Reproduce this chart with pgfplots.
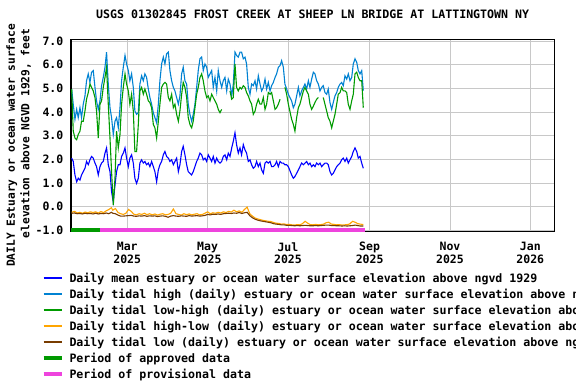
\documentclass[border=0pt]{standalone}
\usepackage{fontspec}
\setmainfont{DejaVu Sans Mono}
\usepackage{pgfplots}
\usepackage{pgfplotstable}
\pgfplotsset{compat=1.18}
\definecolor{cmean}{RGB}{0,0,255}
\definecolor{chigh}{RGB}{0,130,210}
\definecolor{clohi}{RGB}{0,155,0}
\definecolor{chilo}{RGB}{255,165,0}
\definecolor{clow}{RGB}{120,60,0}
\definecolor{capp}{RGB}{0,153,0}
\definecolor{cprov}{RGB}{238,68,221}
\definecolor{cgrid}{RGB}{200,200,200}

% day = days since 2025-01-01
\pgfplotstableread{
d hi lh mn
16.8 4.97 4.97 2.05
18.0 4.33 3.19 1.91
19.3 3.69 2.90 1.34
20.6 4.11 2.83 1.05
21.8 3.76 3.05 1.20
23.1 4.18 3.19 1.12
24.3 3.76 3.61 1.34
25.6 4.33 3.61 1.48
26.9 4.68 4.04 1.62
28.1 5.32 4.54 1.91
29.4 5.61 4.82 1.77
30.7 5.25 5.18 1.98
31.9 5.68 5.04 2.12
33.2 5.75 4.89 2.05
34.5 5.04 4.61 1.84
35.7 4.47 4.04 1.69
37.0 4.11 2.90 1.34
38.3 4.47 4.33 1.69
39.5 5.11 4.47 1.84
40.8 5.46 5.04 1.91
42.1 5.89 5.46 2.26
43.3 6.53 5.89 2.48
44.6 5.18 4.33 1.77
45.9 4.18 2.90 1.48
47.1 3.76 1.48 0.63
48.4 3.05 0.06 0.20
49.7 3.61 1.20 0.91
50.9 3.76 3.19 1.48
52.2 3.33 2.48 1.77
53.5 4.18 3.05 1.77
54.7 5.32 4.33 2.12
56.0 5.89 5.04 2.26
57.3 6.39 5.61 2.48
58.5 6.03 5.18 2.05
59.8 5.75 4.89 1.69
61.0 5.32 4.33 2.05
62.3 5.61 4.75 2.19
63.6 5.04 4.04 1.84
64.8 4.04 2.33 1.20
66.1 3.90 2.33 0.98
67.4 3.97 3.47 1.20
68.6 5.18 4.89 1.84
69.9 5.53 5.04 1.98
71.2 5.32 4.75 1.84
72.4 5.61 4.97 1.91
73.7 5.46 4.75 1.77
75.0 4.97 4.47 1.84
76.2 4.61 4.40 1.69
77.5 4.33 4.18 1.91
78.8 3.97 3.47 1.69
80.0 3.76 3.33 1.48
81.3 3.54 2.90 1.05
82.6 4.33 3.61 1.55
83.8 5.32 4.33 1.77
85.1 6.03 5.04 1.91
86.4 6.32 5.18 2.19
87.6 6.03 5.25 2.33
88.9 6.46 5.18 2.12
90.2 6.53 4.61 2.05
91.4 5.75 4.47 1.91
92.7 5.32 4.75 1.98
94.0 5.04 4.18 1.77
95.2 4.89 4.33 1.91
96.5 4.61 3.90 2.05
97.8 4.33 3.61 1.48
99.0 4.68 4.04 1.77
100.3 5.61 4.75 2.33
101.5 5.89 5.25 2.55
102.8 5.32 5.04 2.19
104.1 5.18 4.61 1.77
105.3 4.33 3.76 1.48
106.6 3.90 3.47 1.41
107.9 3.61 3.33 1.34
109.1 3.90 3.61 1.48
110.4 4.33 4.18 1.69
111.7 5.04 4.75 1.91
112.9 5.75 5.04 2.05
114.2 6.25 5.46 2.26
115.5 6.32 5.61 2.19
116.7 5.75 5.32 1.98
118.0 6.03 4.89 2.05
119.3 5.89 4.61 1.91
120.5 5.46 4.68 2.19
121.8 5.61 4.47 2.05
123.1 5.75 4.75 1.91
124.3 5.04 4.61 2.12
125.6 5.46 4.47 1.84
126.9 4.89 4.33 2.05
128.1 5.75 4.11 1.91
129.4 5.32 3.97 1.84
130.7 5.04 4.11 1.91
131.9 5.32 nan 2.12
133.2 5.46 nan 2.19
134.5 4.89 nan 1.98
135.7 5.39 nan 2.26
137.0 5.18 4.89 2.12
138.3 4.68 4.54 2.48
139.5 5.18 4.61 2.76
140.8 6.53 6.03 3.12
142.0 6.39 5.04 2.62
143.3 6.32 4.89 2.26
144.6 6.53 5.04 2.48
145.8 6.53 4.97 2.19
147.1 6.25 5.11 2.62
148.4 6.32 5.04 2.40
149.6 6.03 4.82 2.26
150.9 5.04 4.68 1.91
152.2 4.75 4.47 1.98
153.4 5.18 4.33 1.77
154.7 5.11 3.90 1.62
156.0 5.32 4.04 1.69
157.2 4.97 4.33 1.91
158.5 5.53 4.54 1.69
159.8 5.18 4.33 1.84
161.0 4.89 4.33 1.55
162.3 5.04 4.61 1.41
163.6 5.39 4.11 1.84
164.8 4.97 4.33 1.91
166.1 5.25 4.82 1.84
167.4 4.89 4.75 1.91
168.6 5.11 4.82 1.69
169.9 5.25 4.47 1.69
171.2 5.46 4.11 1.77
172.4 5.61 4.18 1.91
173.7 5.89 4.33 1.69
175.0 5.96 4.54 1.91
176.2 6.17 nan 1.84
177.5 5.89 nan 1.84
178.7 5.18 5.04 1.77
180.0 4.97 4.75 1.77
181.3 4.75 4.33 1.69
183.8 4.47 3.69 1.34
185.1 4.18 3.47 1.20
186.3 4.33 3.19 1.27
187.6 4.68 3.76 1.41
188.9 5.04 4.18 1.55
190.1 4.68 4.33 1.69
191.4 4.89 4.61 1.84
192.7 5.04 4.89 1.77
193.9 5.18 5.04 1.84
195.2 4.97 4.89 1.91
196.5 5.32 4.75 1.77
197.7 5.04 4.33 1.84
199.0 5.39 4.11 1.69
200.3 5.68 4.25 1.77
201.5 5.61 4.40 1.69
202.8 5.32 4.54 1.84
204.1 5.18 4.61 1.77
205.3 4.89 nan 1.84
206.6 5.04 nan 1.69
207.8 5.11 4.61 1.77
209.1 4.82 4.33 1.84
210.4 4.75 4.04 1.84
211.6 4.97 3.76 1.77
212.9 4.40 3.61 1.48
214.2 4.11 3.33 1.34
215.4 4.40 3.61 1.41
216.7 4.68 3.90 1.55
218.0 4.82 4.33 1.69
219.2 5.04 4.75 1.77
220.5 5.18 4.82 1.84
221.8 5.25 5.04 1.98
223.0 5.11 4.89 2.05
224.3 5.53 4.89 1.91
225.6 5.39 4.82 2.05
226.8 5.61 4.33 1.84
228.1 5.32 4.11 1.98
229.4 5.46 4.47 2.12
230.6 6.03 4.75 2.33
231.9 6.25 5.61 2.48
233.2 6.10 5.68 2.33
234.4 5.75 5.46 2.05
235.7 5.61 5.32 2.12
237.0 5.75 5.32 1.84
238.2 4.90 4.18 1.62
}\daily

\pgfplotstableread{
d hl lo
16.8 -0.24 -0.28
19 -0.20 -0.27
21 -0.27 -0.30
23 -0.24 -0.29
25 -0.28 -0.31
27 -0.23 -0.28
29 -0.26 -0.30
31 -0.22 -0.29
33 -0.25 -0.31
35 -0.22 -0.28
37 -0.27 -0.31
39 -0.21 -0.29
41 -0.25 -0.30
43 -0.18 -0.27
45 -0.12 -0.30
47 -0.05 -0.24
48 -0.15 -0.28
50 -0.08 -0.30
52 -0.25 -0.36
54 -0.30 -0.40
56 -0.33 -0.40
58 -0.28 -0.39
60 -0.12 -0.38
62 -0.20 -0.37
64 -0.32 -0.40
66 -0.35 -0.41
68 -0.30 -0.39
70 -0.33 -0.40
72 -0.28 -0.38
74 -0.34 -0.41
76 -0.30 -0.39
78 -0.35 -0.40
80 -0.31 -0.39
82 -0.36 -0.42
84 -0.32 -0.40
86 -0.30 -0.39
88 -0.35 -0.41
90 -0.33 -0.45
92 -0.28 -0.40
94 -0.10 -0.38
96 -0.30 -0.40
98 -0.33 -0.41
100 -0.36 -0.39
102 -0.30 -0.40
104 -0.34 -0.41
106 -0.31 -0.38
108 -0.35 -0.40
110 -0.32 -0.39
112 -0.30 -0.38
114 -0.35 -0.40
116 -0.33 -0.39
118 -0.28 -0.37
120 -0.22 -0.33
122 -0.30 -0.35
124 -0.26 -0.32
126 -0.28 -0.33
128 -0.24 -0.31
130 -0.27 -0.33
132 -0.22 -0.30
134 -0.25 -0.29
136 -0.20 -0.28
138 -0.23 -0.29
140 -0.15 -0.27
142 -0.22 -0.28
144 -0.18 -0.25
146 -0.24 -0.29
148 -0.12 -0.26
150 -0.02 -0.24
152 -0.30 -0.38
154 -0.40 -0.47
156 -0.48 -0.53
158 -0.52 -0.57
160 -0.55 -0.60
162 -0.58 -0.62
164 -0.60 -0.64
166 -0.62 -0.66
168 -0.63 -0.68
170 -0.67 -0.72
172 -0.70 -0.74
174 -0.71 -0.75
176 -0.74 -0.77
178 -0.73 -0.77
180 -0.76 -0.79
182 -0.75 -0.79
184 -0.77 -0.80
186 -0.78 -0.81
188 -0.76 -0.80
190 -0.77 -0.81
192 -0.72 -0.80
194 -0.62 -0.79
196 -0.70 -0.80
198 -0.76 -0.81
200 -0.77 -0.81
202 -0.75 -0.80
204 -0.77 -0.81
206 -0.76 -0.80
208 -0.74 -0.79
210 -0.68 -0.78
212 -0.66 -0.78
214 -0.74 -0.80
216 -0.75 -0.80
218 -0.77 -0.81
220 -0.76 -0.81
222 -0.78 -0.82
224 -0.77 -0.81
226 -0.76 -0.82
228 -0.73 -0.81
230 -0.62 -0.80
232 -0.66 -0.78
234 -0.72 -0.80
236 -0.74 -0.82
238.2 -0.76 -0.82
}\lows

\begin{document}
\begin{tikzpicture}[x=1pt,y=1pt]
\path[use as bounding box, clip] (0,0) rectangle (576,384);
\fill[white] (0,0) rectangle (576,384);
\begin{axis}[
  scale only axis, width=483.3pt, height=192pt,
  at={(71pt,152.3pt)}, anchor=south west,
  xmin=16.3, xmax=383.2, ymin=-1.06, ymax=7.055,
  xtick={59,120,181,243,304,365},
  xticklabels={Mar\\2025,May\\2025,Jul\\2025,Sep\\2025,Nov\\2025,Jan\\2026},
  ytick={-1,0,1,2,3,4,5,6,7},
  yticklabels={-1.0,0.0,1.0,2.0,3.0,4.0,5.0,6.0,7.0},
  grid=major, grid style={cgrid, line width=0.9pt},
  major tick length=0pt,
  axis line style={line width=1.3pt, black},
  tick label style={font=\fontsize{11.5}{12.6}\selectfont\bfseries},
  xticklabel style={align=center, inner sep=0pt, yshift=-10.5pt},
  yticklabel style={inner sep=0pt, xshift=-7.5pt},
  title={USGS 01302845 FROST CREEK AT SHEEP LN BRIDGE AT LATTINGTOWN NY},
  title style={font=\fontsize{11.6}{13}\selectfont\bfseries, at={(axis description cs:0.5,1)}, anchor=base, yshift=15.5pt, inner sep=0pt},
  ylabel={DAILY Estuary or ocean water surface\hspace*{24pt}\\elevation above NGVD 1929, feet},
  ylabel style={font=\fontsize{11.2}{14.5}\selectfont\bfseries, align=center, at={(axis description cs:-0.1081,0.511)}, anchor=center, inner sep=0pt},
  unbounded coords=jump,
  legend style={at={(axis description cs:-0.0606,-0.2112)}, anchor=north west, draw=none, fill=none, inner sep=0pt, outer sep=0pt, row sep=4.5pt, font=\fontsize{11.6}{13}\selectfont\bfseries, nodes={inner sep=0pt, text height=10pt, text depth=1.5pt}, /tikz/every odd column/.style={column sep=5.5pt}},
  legend cell align=left,
  legend image code/.code={\draw[#1] (0pt,0pt) -- (18.3pt,0pt);},
]
\addplot[cmean, line width=1.1pt, legend image post style={line width=1.5pt}] table[x=d, y=mn] {\daily};
\addlegendentry{Daily mean estuary or ocean water surface elevation above ngvd 1929}
\addplot[chigh, line width=1.1pt, legend image post style={line width=1.5pt}] table[x=d, y=hi] {\daily};
\addlegendentry{Daily tidal high (daily) estuary or ocean water surface elevation above ngvd 1929}
\addplot[clohi, line width=1.1pt, legend image post style={line width=1.5pt}] table[x=d, y=lh] {\daily};
\addlegendentry{Daily tidal low-high (daily) estuary or ocean water surface elevation above ngvd 1929}
\addplot[chilo, line width=1.1pt, legend image post style={line width=1.5pt}] table[x=d, y=hl] {\lows};
\addlegendentry{Daily tidal high-low (daily) estuary or ocean water surface elevation above ngvd 1929}
\addplot[clow, line width=1.1pt, legend image post style={line width=1.5pt}] table[x=d, y=lo] {\lows};
\addlegendentry{Daily tidal low (daily) estuary or ocean water surface elevation above ngvd 1929}
\addplot[capp, line width=4pt] coordinates {(16.3,-0.97) (38.3,-0.97)};
\addlegendentry{Period of approved data}
\addplot[cprov, line width=4pt] coordinates {(38.3,-0.97) (239.5,-0.97)};
\addlegendentry{Period of provisional data}
\end{axis}
\end{tikzpicture}
\end{document}
